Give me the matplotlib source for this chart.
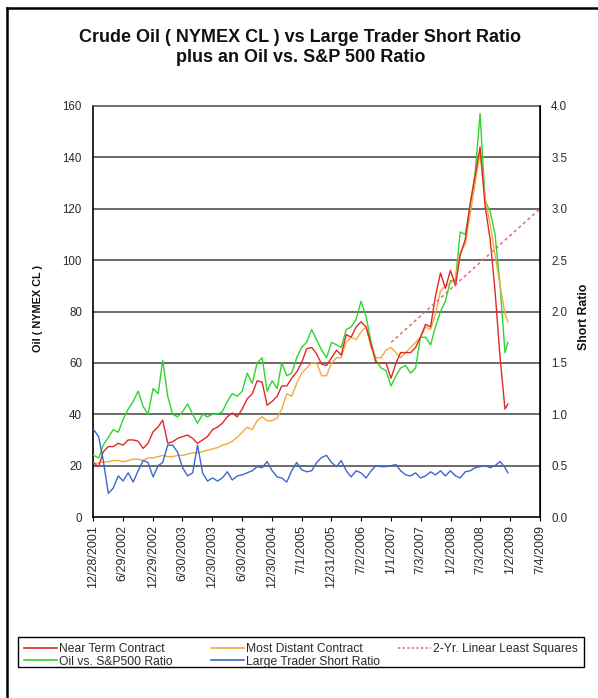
import numpy as np
import matplotlib
matplotlib.use("Agg")
import matplotlib.pyplot as plt
import matplotlib.ticker as ticker
from matplotlib.lines import Line2D
from matplotlib.patches import Rectangle

plt.rcParams["font.family"] = ["Liberation Sans", "DejaVu Sans"]

# ---------------------------------------------------------------------------
# Data: first of each month Jan 2002 .. Dec 2008, + 12/19/2008
# ---------------------------------------------------------------------------
months = np.arange("2002-01", "2009-01", dtype="datetime64[M]").astype("datetime64[D]")
dates = np.append(months, np.datetime64("2008-12-19"))

near_term = [
    21, 19.6, 25.4, 27.4, 27.4, 28.7, 28, 30, 30, 29.5, 26.7, 28.7,      # 2002
    33.2, 35.1, 37.7, 28.7, 29.3, 30.6, 31.3, 31.9, 30.6, 28.7, 30, 31.3,  # 2003
    34, 35, 36.5, 39, 40.5, 39, 42, 46, 48, 53, 52.5, 43.5,               # 2004
    45, 47, 51, 51, 54, 56.5, 60, 65.5, 66, 63.5, 59.5, 59,               # 2005
    62, 65, 63, 71, 70, 74, 76, 74, 67, 60, 60, 60,                       # 2006
    54, 60, 64, 64, 64, 66, 70, 75, 74, 86, 95, 89,                       # 2007
    96, 90, 102, 108, 122, 133, 144, 121, 108, 88, 62, 42,                # 2008
    44,
]
most_distant = [
    21, 21, 21.5, 21.5, 22, 22, 21.5, 22, 22.5, 22.5, 22, 23,
    23, 23.5, 24, 23.5, 23.5, 24, 24, 24.5, 25, 25, 25.5, 26,
    26.5, 27, 28, 28.5, 29.5, 31, 33, 35, 34, 37.5, 39, 37.5,
    37.5, 38.5, 42, 48, 47, 52, 56, 58, 60, 60, 55, 55,
    60, 62, 62, 68, 70, 69, 72, 74, 66, 62, 62, 65,
    66, 64, 62, 64, 66, 68, 70, 74, 73, 79, 88, 90,
    91, 93, 103, 106, 118, 130, 142, 124, 114, 102, 90, 79,
    76,
]
oil_spx = [
    24, 23, 28, 31, 34, 33, 38, 42, 45, 49, 43, 40,
    50, 48, 61, 47, 40, 39, 41, 44, 40, 36.5, 40, 39,
    40, 40, 41, 45, 48, 47, 49, 56, 52, 60, 62, 49,
    53, 50, 60, 55, 56, 62, 66, 68, 73, 69, 65, 62,
    68, 67, 66, 73, 74, 77, 84, 78, 68, 61, 58, 57,
    51, 55, 58, 59, 56, 58, 70, 70, 67, 74, 80, 84,
    92, 92, 111, 110, 121, 134, 157, 123, 119, 110, 90, 64,
    68,
]
short_ratio = [
    0.85, 0.78, 0.55, 0.23, 0.28, 0.40, 0.35, 0.43, 0.34, 0.45, 0.55, 0.53,
    0.39, 0.50, 0.53, 0.70, 0.70, 0.63, 0.48, 0.40, 0.43, 0.70, 0.43, 0.35,
    0.38, 0.35, 0.38, 0.44, 0.36, 0.40, 0.41, 0.43, 0.45, 0.49, 0.48, 0.54,
    0.45, 0.39, 0.38, 0.34, 0.45, 0.53, 0.46, 0.44, 0.45, 0.53, 0.58, 0.60,
    0.53, 0.49, 0.55, 0.45, 0.39, 0.45, 0.43, 0.38, 0.45, 0.50, 0.49, 0.49,
    0.50, 0.51, 0.45, 0.41, 0.40, 0.43, 0.38, 0.40, 0.44, 0.41, 0.45, 0.40,
    0.45, 0.40, 0.38, 0.44, 0.45, 0.48, 0.49, 0.50, 0.48, 0.50, 0.54, 0.48,
    0.43,
]
trend_dates = np.array(["2007-01-02", "2009-07-04"], dtype="datetime64[D]")
trend_vals = [68, 120]

# x axis: Excel-style date ticks every 183 days
x_start = np.datetime64("2001-12-28")
x_end = np.datetime64("2009-07-04")
tick_dates = x_start + np.arange(16) * 183

# ---------------------------------------------------------------------------
# Plot
# ---------------------------------------------------------------------------
W, H = 598, 698
fig = plt.figure(figsize=(W / 100, H / 100), dpi=100, facecolor="white")
ax = fig.add_axes([93 / W, 1 - 517 / H, 447 / W, 411 / H])
ax2 = ax.twinx()

RED, ORANGE, GREEN, BLUE = "#e02828", "#f5a93a", "#2fd42f", "#3a68d0"
TREND = "#e06a6a"
TXT = "#2a2a2a"

ax.plot(dates, oil_spx, color=GREEN, lw=1.0, zorder=3)
ax.plot(dates, most_distant, color=ORANGE, lw=1.0, zorder=4)
ax.plot(dates, near_term, color=RED, lw=1.0, zorder=5)
ax.plot(trend_dates, trend_vals, color=TREND, lw=1.1, ls=(0, (2, 2)), zorder=6)
ax2.plot(dates, short_ratio, color=BLUE, lw=1.0, zorder=3)

ax.set_xlim(x_start, x_end)
ax.set_ylim(0, 160)
ax2.set_ylim(0, 4.0)
ax.set_yticks(np.arange(0, 161, 20))
ax2.set_yticks(np.arange(0, 4.01, 0.5))
ax2.yaxis.set_major_formatter(ticker.FormatStrFormatter("%.1f"))

for yv in range(20, 160, 20):
    ax.axhline(yv, color="#6a6a6a", lw=1.4, zorder=1)

ax.set_xticks(tick_dates)
ax.set_xticklabels([f"{d.month}/{d.day}/{d.year}" for d in tick_dates.astype(object)],
                   rotation=90, fontsize=9, color=TXT)
ax.tick_params(axis="x", direction="out", length=3, width=0.8, pad=3)
ax.tick_params(axis="y", length=0, pad=8, labelsize=8.3, labelcolor=TXT)
ax2.tick_params(axis="y", length=0, pad=8, labelsize=8.3, labelcolor=TXT)

for sp in ("left", "bottom"):
    ax.spines[sp].set_linewidth(1.2)
ax.spines["top"].set_color("#555555")
ax.spines["top"].set_linewidth(1.2)
ax2.spines["right"].set_linewidth(1.2)
for sp in ("left", "bottom", "top"):
    ax2.spines[sp].set_visible(False)

fig.text(38 / W, 1 - 308 / H, "Oil ( NYMEX CL )", rotation=90, ha="center", va="center",
         fontsize=7.8, fontweight="bold", color="#111111")
fig.text(584 / W, 1 - 317 / H, "Short Ratio", rotation=90, ha="center", va="center",
         fontsize=8.8, fontweight="bold", color="#111111")

fig.text(0.502, 1 - 37 / H, "Crude Oil ( NYMEX CL ) vs Large Trader Short Ratio",
         ha="center", va="center", fontsize=13, fontweight="bold", color="#111111")
fig.text(0.502, 1 - 58 / H, "plus an Oil vs. S&P 500 Ratio",
         ha="center", va="center", fontsize=13, fontweight="bold", color="#111111")

# legend: three fixed-width columns inside one box
columns = [
    [Line2D([], [], color=RED, lw=1.2, label="Near Term Contract"),
     Line2D([], [], color=GREEN, lw=1.2, label="Oil vs. S&P500 Ratio")],
    [Line2D([], [], color=ORANGE, lw=1.2, label="Most Distant Contract"),
     Line2D([], [], color=BLUE, lw=1.2, label="Large Trader Short Ratio")],
    [Line2D([], [], color=TREND, lw=1.1, ls=(0, (1.5, 1.5)), label="2-Yr. Linear Least Squares")],
]
col_x = [24, 211, 398]
for hs, cx in zip(columns, col_x):
    leg = fig.legend(handles=hs, loc="upper left", bbox_to_anchor=(cx / W, 1 - 643 / H),
                     fontsize=8.7, frameon=False, handlelength=2.7, handletextpad=0.2,
                     labelspacing=0.05, borderpad=0, borderaxespad=0)
    for t in leg.get_texts():
        t.set_color(TXT)
fig.add_artist(Rectangle((18 / W, 1 - 667 / H), 566 / W, 30 / H, transform=fig.transFigure,
                         fill=False, edgecolor="black", lw=1.0))

# page frame around the chart
fig.add_artist(Line2D([7 / W, 7 / W], [0, 1 - 8 / H], color="black", lw=1.8,
                      transform=fig.transFigure))
fig.add_artist(Line2D([7 / W, 1], [1 - 8 / H, 1 - 8 / H], color="black", lw=1.8,
                      transform=fig.transFigure))

fig.savefig("out.png", dpi=100, facecolor="white")
